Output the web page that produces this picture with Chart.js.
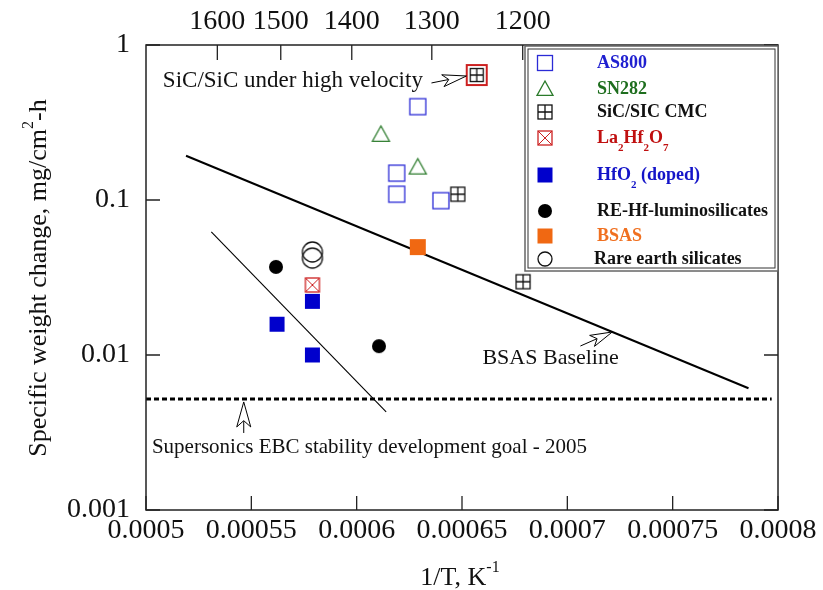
<!DOCTYPE html>
<html>
<head>
<meta charset="utf-8">
<script src="https://cdn.jsdelivr.net/npm/chart.js@4"></script>
<style>
  html, body { margin: 0; padding: 0; background: #fff; }
  canvas { display: block; }
</style>
</head>
<body>
<canvas id="chart" width="823" height="590"></canvas>
<script>
// Specific weight change vs 1/T

// ===== DATA =====
const xTicks = [0.0005, 0.00055, 0.0006, 0.00065, 0.0007, 0.00075, 0.0008];
const xTickLabels = ['0.0005', '0.00055', '0.0006', '0.00065', '0.0007', '0.00075', '0.0008'];
const yTicks = [0.001, 0.01, 0.1, 1];
const yTickLabels = ['0.001', '0.01', '0.1', '1'];
const tempC = [1600, 1500, 1400, 1300, 1200];

const as800X = [0.000629, 0.000619, 0.000619, 0.000640];
const as800Y = [0.40, 0.149, 0.109, 0.099];
const sn282X = [0.0006115, 0.000629];
const sn282Y = [0.265, 0.163];
const cmcX = [0.000648, 0.000679];
const cmcY = [0.109, 0.0297];
const highVelX = [0.000657];
const highVelY = [0.64];
const laHfX = [0.000579];
const laHfY = [0.0283];
const hfo2X = [0.000579, 0.0005622, 0.000579];
const hfo2Y = [0.0222, 0.0158, 0.0100];
const reHfX = [0.0005617, 0.0006106];
const reHfY = [0.037, 0.0114];
const bsasX = [0.000629];
const bsasY = [0.0497];
const reSilX = [0.000579, 0.000579];
const reSilY = [0.0462, 0.0422];

const baselineX = [0.000519, 0.000786];
const baselineY = [0.193, 0.0061];
const steepX = [0.000531, 0.000614];
const steepY = [0.0622, 0.0043];
const goalX = [0.0005, 0.000797];
const goalY = [0.0052, 0.0052];

const FONT = "'Liberation Serif', 'Times New Roman', serif";

// ===== MARKERS =====
function drawMarker(c, kind, cx, cy, s, color) {
  const h = s / 2;
  c.save();
  c.strokeStyle = color;
  c.fillStyle = color;
  c.lineWidth = 1.3;
  if (kind === 'sq') {
    c.strokeRect(cx - h, cy - h, s, s);
  } else if (kind === 'tri') {
    c.beginPath();
    c.moveTo(cx, cy - h);
    c.lineTo(cx + h, cy + h * 0.8);
    c.lineTo(cx - h, cy + h * 0.8);
    c.closePath();
    c.stroke();
  } else if (kind === 'grid') {
    c.strokeRect(cx - h, cy - h, s, s);
    c.beginPath();
    c.moveTo(cx, cy - h); c.lineTo(cx, cy + h);
    c.moveTo(cx - h, cy); c.lineTo(cx + h, cy);
    c.stroke();
  } else if (kind === 'xsq') {
    c.strokeRect(cx - h, cy - h, s, s);
    c.lineWidth = 1;
    c.beginPath();
    c.moveTo(cx - h, cy - h); c.lineTo(cx + h, cy + h);
    c.moveTo(cx + h, cy - h); c.lineTo(cx - h, cy + h);
    c.stroke();
  } else if (kind === 'fsq') {
    c.fillRect(cx - h, cy - h, s, s);
  } else if (kind === 'fcirc') {
    c.beginPath();
    c.arc(cx, cy, h, 0, Math.PI * 2);
    c.fill();
  } else if (kind === 'ocirc') {
    c.beginPath();
    c.arc(cx, cy, h, 0, Math.PI * 2);
    c.stroke();
  } else if (kind === 'hv') {
    c.lineWidth = 2;
    c.strokeRect(cx - h, cy - h, s, s);
    c.restore();
    drawMarker(c, 'grid', cx, cy, s - 7, '#111');
    return;
  }
  c.restore();
}

function markerImage(kind, s, color) {
  const cv = document.createElement('canvas');
  cv.width = s + 4;
  cv.height = s + 4;
  drawMarker(cv.getContext('2d'), kind, cv.width / 2, cv.height / 2, s, color);
  return cv;
}

function pts(xs, ys) {
  return xs.map((x, i) => ({ x: x, y: ys[i] }));
}

function scatterSet(label, xs, ys, kind, s, color) {
  return {
    label: label,
    data: pts(xs, ys),
    pointStyle: markerImage(kind, s, color),
    pointRadius: 8,
    pointHoverRadius: 8,
    showLine: false,
  };
}

function lineSet(label, xs, ys, width, dash) {
  return {
    type: 'line',
    label: label,
    data: pts(xs, ys),
    borderColor: '#000',
    borderWidth: width,
    borderDash: dash,
    pointRadius: 0,
    fill: false,
    tension: 0,
  };
}

const datasets = [
  scatterSet('AS800', as800X, as800Y, 'sq', 16, '#2b2bd6'),
  scatterSet('SN282', sn282X, sn282Y, 'tri', 17, '#2a7a2a'),
  scatterSet('SiC/SIC CMC', cmcX, cmcY, 'grid', 14, '#111'),
  scatterSet('SiC/SiC under high velocity', highVelX, highVelY, 'hv', 20, '#cc2020'),
  scatterSet('La2Hf2O7', laHfX, laHfY, 'xsq', 14, '#cc2020'),
  scatterSet('HfO2 (doped)', hfo2X, hfo2Y, 'fsq', 15, '#0000cc'),
  scatterSet('RE-Hf-luminosilicates', reHfX, reHfY, 'fcirc', 14, '#000'),
  scatterSet('BSAS', bsasX, bsasY, 'fsq', 16, '#f06812'),
  scatterSet('Rare earth silicates', reSilX, reSilY, 'ocirc', 20, '#111'),
  lineSet('BSAS Baseline', baselineX, baselineY, 2, []),
  lineSet('trend', steepX, steepY, 1.1, []),
  lineSet('Supersonics EBC stability development goal - 2005', goalX, goalY, 3, [5, 3]),
];

// ===== LEGEND ROWS =====
const legendRows = [
  { parts: [{ t: 'AS800' }], color: '#1f1fd0', kind: 'sq', mc: '#2b2bd6', s: 15 },
  { parts: [{ t: 'SN282' }], color: '#1e6e1e', kind: 'tri', mc: '#2a7a2a', s: 16 },
  { parts: [{ t: 'SiC/SIC CMC' }], color: '#111', kind: 'grid', mc: '#111', s: 14 },
  { parts: [{ t: 'La' }, { t: '2', sub: true }, { t: 'Hf' }, { t: '2', sub: true }, { t: 'O' }, { t: '7', sub: true }], color: '#c01010', kind: 'xsq', mc: '#cc2020', s: 14 },
  { parts: [{ t: 'HfO' }, { t: '2', sub: true }, { t: ' (doped)' }], color: '#1414c8', kind: 'fsq', mc: '#0000cc', s: 15 },
  { parts: [{ t: 'RE-Hf-luminosilicates' }], color: '#111', kind: 'fcirc', mc: '#000', s: 14 },
  { parts: [{ t: 'BSAS' }], color: '#f07020', kind: 'fsq', mc: '#f06812', s: 15 },
  { parts: [{ t: 'Rare earth silicates' }], color: '#111', kind: 'ocirc', mc: '#111', s: 14 },
];
const legendRowY = [63, 89, 112, 138, 175, 211, 236, 259];

// ===== TEXT HELPERS =====
function drawRich(c, parts, x, y, size, weight, color, align) {
  const small = Math.round(size * 0.62);
  const fontOf = (p) => weight + ' ' + (p.sub || p.sup ? small : size) + 'px ' + FONT;
  let total = 0;
  parts.forEach((p) => { c.font = fontOf(p); total += c.measureText(p.t).width; });
  let cx = align === 'center' ? x - total / 2 : x;
  c.save();
  c.fillStyle = color;
  c.textAlign = 'left';
  c.textBaseline = 'middle';
  parts.forEach((p) => {
    c.font = fontOf(p);
    let dy = 0;
    if (p.sub) dy = size * 0.55;
    if (p.sup) dy = -size * 0.4;
    c.fillText(p.t, cx, y + dy);
    cx += c.measureText(p.t).width;
  });
  c.restore();
}

function drawArrow(c, x1, y1, x2, y2, headLen, headW) {
  const ang = Math.atan2(y2 - y1, x2 - x1);
  const cos = Math.cos(ang), sin = Math.sin(ang);
  const bx = x2 - cos * headLen, by = y2 - sin * headLen;
  const nx = x2 - cos * headLen * 0.75, ny = y2 - sin * headLen * 0.75;
  c.save();
  c.strokeStyle = '#000';
  c.lineWidth = 1;
  c.beginPath();
  c.moveTo(x1, y1);
  c.lineTo(nx, ny);
  c.stroke();
  c.beginPath();
  c.moveTo(x2, y2);
  c.lineTo(bx - sin * headW / 2, by + cos * headW / 2);
  c.lineTo(nx, ny);
  c.lineTo(bx + sin * headW / 2, by - cos * headW / 2);
  c.closePath();
  c.fillStyle = '#fff';
  c.fill();
  c.stroke();
  c.restore();
}

// ===== FRAME, TICKS, ANNOTATIONS, LEGEND =====
const decorPlugin = {
  id: 'decor',
  afterDatasetsDraw(chart) {
    const c = chart.ctx;
    const a = chart.chartArea;
    const xs = chart.scales.x;
    const ys = chart.scales.y;
    const px = (v) => xs.getPixelForValue(v);
    const py = (v) => ys.getPixelForValue(v);

    c.save();
    c.strokeStyle = '#222';
    c.lineWidth = 1.3;
    c.beginPath();
    xTicks.forEach((v) => {
      c.moveTo(px(v), a.bottom);
      c.lineTo(px(v), a.bottom - 14);
    });
    tempC.forEach((t) => {
      const p = px(1 / (t + 273.15));
      c.moveTo(p, a.top);
      c.lineTo(p, a.top + 15);
    });
    yTicks.forEach((v) => {
      c.moveTo(a.left, py(v));
      c.lineTo(a.left + 14, py(v));
      c.moveTo(a.right, py(v));
      c.lineTo(a.right - 14, py(v));
    });
    c.stroke();
    c.lineWidth = 1.5;
    c.strokeRect(a.left, a.top, a.right - a.left, a.bottom - a.top);
    c.restore();

    // annotations
    c.save();
    c.fillStyle = '#111';
    c.textBaseline = 'middle';
    c.textAlign = 'left';
    c.font = '23px ' + FONT;
    c.fillText('SiC/SiC under high velocity', px(0.000508), py(0.586));
    c.font = '22px ' + FONT;
    c.fillText('BSAS Baseline', px(0.0006597), py(0.00957));
    c.font = '21px ' + FONT;
    c.fillText('Supersonics EBC stability development goal - 2005', px(0.0005028), py(0.00255));
    c.restore();
    drawArrow(c, px(0.0006355), py(0.569), px(0.0006521), py(0.631), 24, 12);
    drawArrow(c, px(0.0007062), py(0.01143), px(0.0007213), py(0.01407), 22, 12);
    drawArrow(c, px(0.0005464), py(0.00314), px(0.0005464), py(0.00498), 25, 14);

    // legend
    const lx = 525, ly = a.top + 1, lw = a.right - 525, lh = 225;
    c.save();
    c.fillStyle = '#fff';
    c.fillRect(lx, ly, lw, lh);
    c.strokeStyle = '#666';
    c.lineWidth = 1.5;
    c.strokeRect(lx, ly, lw, lh);
    c.strokeStyle = '#333';
    c.lineWidth = 1;
    c.strokeRect(lx + 3, ly + 3, lw - 6, lh - 6);
    c.restore();
    legendRows.forEach((r, i) => {
      const y = legendRowY[i];
      drawMarker(c, r.kind, 545, y, r.s, r.mc);
      drawRich(c, r.parts, i === 7 ? 594 : 597, y, 18, 'bold', r.color, 'left');
    });

    // axis titles
    drawRich(c, [{ t: '1/T, K' }, { t: '-1', sup: true }], 460, 578, 26, 'normal', '#111', 'center');
    c.save();
    c.translate(39, 278);
    c.rotate(-Math.PI / 2);
    drawRich(c, [{ t: 'Specific weight change, mg/cm' }, { t: '2', sup: true }, { t: '-h' }], 0, 0, 26, 'normal', '#111', 'center');
    c.restore();
  },
};

const tickFont = { family: FONT, size: 28 };

new Chart(document.getElementById('chart'), {
  type: 'scatter',
  data: { datasets: datasets },
  options: {
    responsive: false,
    animation: false,
    events: [],
    layout: { padding: { left: 0, right: 45, top: 0, bottom: 0 } },
    plugins: {
      legend: { display: false },
      tooltip: { enabled: false },
    },
    scales: {
      x: {
        type: 'linear',
        position: 'bottom',
        min: 0.0005,
        max: 0.0008,
        grid: { display: false, drawTicks: false },
        border: { display: false },
        afterBuildTicks: (s) => { s.ticks = xTicks.map((v) => ({ value: v })); },
        afterFit: (s) => { s.height = 80; },
        ticks: {
          font: tickFont,
          color: '#111',
          padding: 4,
          autoSkip: false,
          maxRotation: 0,
          minRotation: 0,
          callback: (v, i) => xTickLabels[i],
        },
      },
      xTop: {
        type: 'linear',
        position: 'top',
        min: 0.0005,
        max: 0.0008,
        grid: { display: false, drawTicks: false },
        border: { display: false },
        afterBuildTicks: (s) => { s.ticks = tempC.map((t) => ({ value: 1 / (t + 273.15) })); },
        afterFit: (s) => { s.height = 45; },
        ticks: {
          font: tickFont,
          color: '#111',
          padding: 7,
          autoSkip: false,
          maxRotation: 0,
          minRotation: 0,
          callback: (v, i) => String(tempC[i]),
        },
      },
      y: {
        type: 'logarithmic',
        position: 'left',
        min: 0.001,
        max: 1,
        grid: { display: false, drawTicks: false },
        border: { display: false },
        afterBuildTicks: (s) => { s.ticks = yTicks.map((v) => ({ value: v })); },
        afterFit: (s) => { s.width = 146; },
        ticks: {
          font: tickFont,
          color: '#111',
          padding: 16,
          autoSkip: false,
          callback: (v, i) => yTickLabels[i],
        },
      },
    },
  },
  plugins: [decorPlugin],
});
</script>
</body>
</html>
